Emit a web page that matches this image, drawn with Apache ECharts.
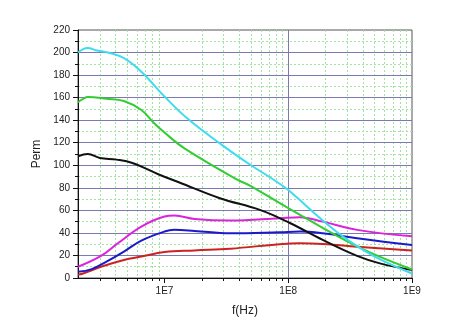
<!DOCTYPE html>
<html>
<head>
<meta charset="utf-8">
<script src="https://cdn.jsdelivr.net/npm/echarts@6/dist/echarts.min.js"></script>
<style>
  html, body { margin: 0; padding: 0; background: #fff; }
  #chart { width: 465px; height: 330px; }
</style>
</head>
<body>
<div id="chart"></div>
<script>
// Frequency (Hz) / permeability samples for each curve
const cyanF  = [2e6, 2.2e6, 2.4e6, 2.8e6, 3.5e6, 4.7e6, 6.5e6, 1e7, 1.55e7, 3e7, 5e7, 7.8e7, 1e8, 2e8, 3e8, 5e8, 1e9];
const cyanV  = [200, 203, 204, 202, 200, 195, 183, 161, 141, 117, 100, 86.5, 78, 49, 34, 19, 4];

const greenF = [2e6, 2.2e6, 2.4e6, 3.4e6, 4.7e6, 6.5e6, 8.3e6, 1e7, 1.45e7, 3.9e7, 4.9e7, 1e8, 3.6e8, 1e9];
const greenV = [156, 159, 160.5, 159, 157, 149, 137, 129, 115, 87, 82, 62, 28, 7.5];

const blackF = [2e6, 2.4e6, 3e6, 4.1e6, 5.5e6, 9.1e6, 1.32e7, 2.8e7, 5.9e7, 1.03e8, 1.9e8, 3.6e8, 5.5e8, 1e9];
const blackV = [108, 110, 106.5, 105, 102, 91.6, 84.7, 70.8, 60.4, 48.8, 33.8, 19.6, 13, 7];

const magentaF = [2e6, 3.07e6, 4.2e6, 6.5e6, 1e7, 1.2e7, 1.75e7, 3.4e7, 8.5e7, 1.24e8, 1.9e8, 3.6e8, 1e9];
const magentaV = [10, 19.6, 30.8, 45.6, 54.5, 55.4, 52.4, 51, 53, 54, 50, 42.7, 37];

const blueF = [2e6, 2.55e6, 3.4e6, 4.7e6, 6.5e6, 1e7, 1.2e7, 1.75e7, 3.4e7, 8.5e7, 1.24e8, 1.9e8, 3.6e8, 1e9];
const blueV = [5.5, 7.7, 14.5, 23.4, 33.2, 41.2, 42.7, 41.8, 39.7, 40.6, 41.2, 39.7, 35.3, 29.3];

const redF = [2e6, 2.2e6, 3.07e6, 4.7e6, 6.5e6, 1e7, 1.75e7, 3.4e7, 8.5e7, 1.24e8, 1.9e8, 3.6e8, 1e9];
const redV = [3, 4, 10, 16, 19, 23, 24.5, 26, 30, 30.8, 30.2, 27.8, 24.3];

// Axis ticks
const decadeTicks = [1e7, 1e8, 1e9];
const minorFreqTicks = [3e6, 4e6, 5e6, 6e6, 7e6, 8e6, 9e6,
                        2e7, 3e7, 4e7, 5e7, 6e7, 7e7, 8e7, 9e7,
                        2e8, 3e8, 4e8, 5e8, 6e8, 7e8, 8e8, 9e8];

const pairs = (xs, ys) => xs.map((x, i) => [x, ys[i]]);

const curves = [
  { f: redF, v: redV, color: '#cc2222' },
  { f: blueF, v: blueV, color: '#1a1acc' },
  { f: magentaF, v: magentaV, color: '#dd22dd' },
  { f: blackF, v: blackV, color: '#111111' },
  { f: greenF, v: greenV, color: '#33cc33' },
  { f: cyanF, v: cyanV, color: '#3fdcee' }
];

const font = 'Liberation Sans, Arial, sans-serif';
const majorGrid = { color: '#7a7ab0', width: 1 };
const minorGrid = { color: '#a4e2a4', width: 1, type: [2, 2] };

const chart = echarts.init(document.getElementById('chart'), null, { renderer: 'canvas' });
chart.setOption({
  animation: false,
  backgroundColor: '#fff',
  grid: { left: 78, right: 53, top: 30, bottom: 52, show: true, borderColor: '#555', borderWidth: 1, backgroundColor: 'transparent' },
  xAxis: [
    {
      type: 'log', min: 2e6, max: 1e9, position: 'bottom',
      name: 'f(Hz)', nameLocation: 'middle', nameGap: 27,
      nameTextStyle: { fontFamily: font, fontSize: 12, color: '#222' },
      axisLine: { show: true, lineStyle: { color: '#111', width: 1 } },
      axisTick: { show: true, length: 5, customValues: decadeTicks, lineStyle: { color: '#111' } },
      axisLabel: { customValues: decadeTicks, margin: 8, fontFamily: font, fontSize: 10, color: '#222',
        formatter: v => '1E' + Math.round(Math.log10(v)) },
      splitLine: { show: true, showMinLine: false, showMaxLine: false, lineStyle: majorGrid },
      z: 3
    },
    {
      type: 'log', min: 2e6, max: 1e9, position: 'bottom',
      axisLine: { show: false },
      axisTick: { show: true, length: 3, customValues: minorFreqTicks, lineStyle: { color: '#111' } },
      axisLabel: { show: false },
      splitLine: { show: true, lineStyle: minorGrid },
      z: 2
    }
  ],
  yAxis: [
    {
      type: 'value', min: 0, max: 220, interval: 20,
      name: 'Perm', nameLocation: 'middle', nameGap: 29, nameRotate: 90,
      nameTextStyle: { fontFamily: font, fontSize: 12, color: '#222' },
      axisLine: { show: true, lineStyle: { color: '#111', width: 1 } },
      axisTick: { show: true, length: 5, lineStyle: { color: '#111' } },
      minorTick: { show: true, splitNumber: 2, length: 3, lineStyle: { color: '#111' } },
      axisLabel: { margin: 8, fontFamily: font, fontSize: 10, color: '#222' },
      splitLine: { show: true, showMinLine: false, showMaxLine: false, lineStyle: majorGrid },
      minorSplitLine: { show: true, lineStyle: minorGrid },
      z: 3
    }
  ],
  series: curves.map(c => ({
    type: 'line',
    xAxisIndex: 0,
    yAxisIndex: 0,
    data: pairs(c.f, c.v),
    smooth: 0.4,
    symbol: 'none',
    lineStyle: { color: c.color, width: 2 },
    z: 5
  }))
});
</script>
</body>
</html>
